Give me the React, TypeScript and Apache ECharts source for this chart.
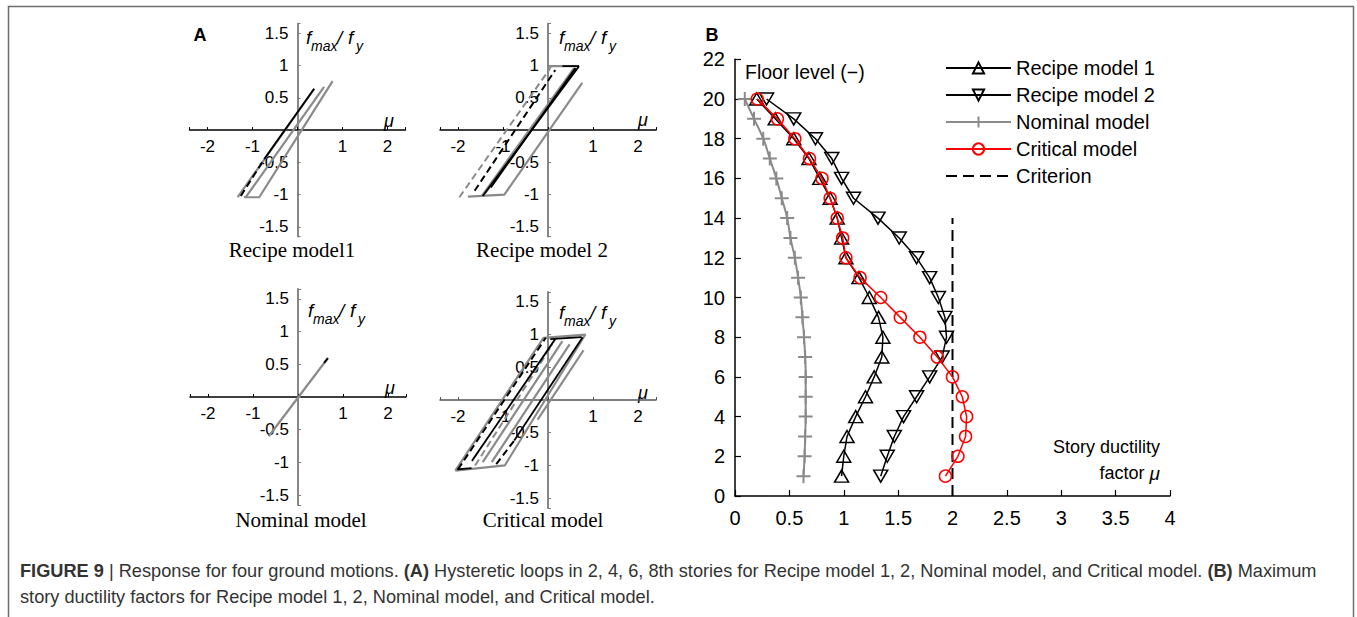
import React, { useEffect, useRef } from "react";
import * as echarts from "echarts";

// ---------------- Panel B data ----------------
const floors = [1, 2, 3, 4, 5, 6, 7, 8, 9, 10, 11, 12, 13, 14, 15, 16, 17, 18, 19, 20];
const recipe1 = [0.98, 1.0, 1.03, 1.11, 1.2, 1.28, 1.35, 1.36, 1.32, 1.235, 1.14, 1.02, 0.98, 0.94, 0.875, 0.78, 0.68, 0.54, 0.37, 0.2];
const recipe2 = [1.34, 1.4, 1.465, 1.55, 1.67, 1.79, 1.905, 1.945, 1.93, 1.87, 1.79, 1.67, 1.51, 1.315, 1.09, 0.98, 0.89, 0.74, 0.54, 0.29];
const nominal = [0.63, 0.64, 0.645, 0.65, 0.65, 0.65, 0.645, 0.635, 0.62, 0.605, 0.58, 0.55, 0.51, 0.48, 0.43, 0.38, 0.32, 0.26, 0.175, 0.09];
const critical = [1.935, 2.05, 2.12, 2.13, 2.09, 2.0, 1.86, 1.7, 1.52, 1.34, 1.15, 1.02, 0.99, 0.94, 0.875, 0.8, 0.685, 0.55, 0.39, 0.205];
const criterionX = 2;
const criterionFloors = [0, 14];
const legendNames = ["Recipe model 1", "Recipe model 2", "Nominal model", "Critical model", "Criterion"];

// ---------------- Panel A data (hysteretic loops, [mu, f/fy]) ----------------
const r1Gray = [
  [[-1.33, -1.04], [0.37, 0.64]],
  [[-1.19, -1.04], [-0.85, -1.04], [0.78, 0.76]],
  [[-1.15, -1.04], [0.59, 0.67]],
];
const r1GrayDash: number[][][] = [];
const r1Black = [[[-0.74, -0.45], [0.37, 0.64]]];
const r1BlackDash = [[[-1.26, -1.02], [-0.74, -0.45]]];

const r2Gray = [
  [[-1.48, -1.03], [0.58, 0.96]],
  [[-1.78, -1.03], [-0.97, -1.0], [0.76, 0.73]],
  [[0.05, 0.96], [0.05, 0.99], [0.69, 0.99]],
  [[-1.4, -0.98], [0.62, 0.96]],
];
const r2GrayDash = [[[-1.97, -1.04], [0.05, 0.96]]];
const r2Black = [
  [[-1.45, -1.02], [0.69, 0.99]],
  [[-1.27, -0.89], [0.61, 0.96]],
  [[0.32, 0.99], [0.69, 0.99]],
];
const r2BlackDash = [[[-1.63, -0.94], [0.16, 0.93]]];

const nomGray = [[[-0.65, -0.6], [0.67, 0.6]]];
const nomGrayDash: number[][][] = [];
const nomBlack = [[[0.58, 0.52], [0.66, 0.59]]];
const nomBlackDash: number[][][] = [];

const crGray = [
  [[-2.06, -1.08], [-0.1, 0.95], [0.83, 1.0], [-0.96, -1.0], [-2.06, -1.08]],
  [[-1.45, -0.95], [0.32, 0.9]],
  [[-1.25, -0.95], [0.48, 0.85]],
  [[-0.23, -0.3], [0.79, 0.76]],
];
const crGrayDash = [[[-1.62, -1.0], [0.1, 0.85]]];
const crBlack = [
  [[-1.69, -0.93], [0.16, 0.93]],
  [[-0.75, -0.62], [0.77, 0.96]],
  [[0.05, 0.93], [0.75, 0.96]],
  [[-2.02, -1.06], [-1.7, -1.04]],
];
const crBlackDash = [
  [[-2.0, -1.06], [-0.05, 0.95]],
  [[-1.15, -0.98], [-0.75, -0.62]],
];

const subplotTitles = ["Recipe model1", "Recipe model 2", "Nominal model", "Critical model"];

// ---------------- styling ----------------
const FONT = "'Liberation Sans', Arial, Helvetica, sans-serif";
const SERIF = "'Liberation Serif', 'Times New Roman', serif";
const GRAY = "#8a8a8a";

const aGrids = [
  { left: 189.5, top: 23.6, width: 216, height: 213 },
  { left: 440, top: 23.6, width: 216, height: 213 },
  { left: 190, top: 289, width: 216, height: 216 },
  { left: 440, top: 292, width: 216, height: 216 },
];
const hAxisColor = ["#000", "#000", "#000", "#555"];

function loopSeries(polys: number[][][], idx: number, color: string, width: number, dashed: boolean, z: number) {
  return polys.map((p) => ({
    type: "line",
    xAxisIndex: idx,
    yAxisIndex: idx,
    data: p,
    symbol: "none",
    silent: true,
    z,
    lineStyle: { color, width, type: dashed ? [7, 4] : "solid" },
  }));
}

function txt(text: string, x: number, y: number, o: any = {}) {
  return {
    type: "text",
    x,
    y,
    silent: true,
    style: {
      text,
      fill: o.fill || "#000",
      fontSize: o.fontSize || 18,
      fontFamily: o.fontFamily || FONT,
      fontWeight: o.fontWeight || "normal",
      fontStyle: o.fontStyle || "normal",
      align: o.align || "left",
      verticalAlign: o.verticalAlign || "middle",
      rich: o.rich,
    },
  };
}

function buildOption() {
  const grid: any[] = [...aGrids, { left: 735, top: 59.3, width: 435, height: 436.7 }];
  const xAxis: any[] = [];
  const yAxis: any[] = [];
  for (let i = 0; i < 4; i++) {
    const g = aGrids[i];
    xAxis.push({
      gridIndex: i,
      type: "value",
      position: "bottom",
      offset: -g.height / 2,
      min: -2.4,
      max: 2.4,
      splitNumber: 5,
      splitLine: { show: false },
      axisLine: { onZero: false, lineStyle: { color: hAxisColor[i], width: 1.5 } },
      axisTick: { inside: true, length: 3, lineStyle: { color: hAxisColor[i] } },
      axisLabel: {
        fontSize: 17,
        color: "#000",
        fontFamily: FONT,
        margin: 8,
        formatter: (v: number) => (Math.abs(v - Math.round(v)) < 1e-6 && Math.abs(v) > 1e-6 ? String(Math.round(v)) : ""),
      },
    });
    yAxis.push({
      gridIndex: i,
      type: "value",
      position: "left",
      offset: -g.width / 2,
      min: -1.65,
      max: 1.65,
      splitNumber: 6,
      splitLine: { show: false },
      axisLine: { onZero: false, lineStyle: { color: "#7a7a7a", width: 1.8 } },
      axisTick: { inside: true, length: 3, lineStyle: { color: "#7a7a7a" } },
      axisLabel: {
        fontSize: 17,
        color: "#000",
        fontFamily: FONT,
        margin: 9,
        formatter: (v: number) =>
          Math.abs(v * 2 - Math.round(v * 2)) < 1e-6 && Math.abs(v) > 1e-6 ? String(Math.round(v * 2) / 2) : "",
      },
    });
  }
  xAxis.push({
    gridIndex: 4,
    type: "value",
    min: 0,
    max: 4,
    interval: 0.5,
    splitLine: { show: false },
    axisLine: { onZero: false, lineStyle: { color: "#000", width: 1.5 } },
    axisTick: { inside: true, length: 6, lineStyle: { color: "#000", width: 1.2 } },
    axisLabel: { fontSize: 20, color: "#000", fontFamily: FONT, margin: 12 },
  });
  yAxis.push({
    gridIndex: 4,
    type: "value",
    min: 0,
    max: 22,
    interval: 2,
    splitLine: { show: false },
    axisLine: { onZero: false, lineStyle: { color: "#000", width: 1.5 } },
    axisTick: { inside: true, length: 6, lineStyle: { color: "#000", width: 1.2 } },
    axisLabel: { fontSize: 20, color: "#000", fontFamily: FONT, margin: 10 },
  });

  const series: any[] = [];
  const sets = [
    [r1Gray, r1GrayDash, r1Black, r1BlackDash],
    [r2Gray, r2GrayDash, r2Black, r2BlackDash],
    [nomGray, nomGrayDash, nomBlack, nomBlackDash],
    [crGray, crGrayDash, crBlack, crBlackDash],
  ];
  sets.forEach((s, i) => {
    series.push(...loopSeries(s[0], i, GRAY, 2.2, false, 2));
    series.push(...loopSeries(s[1], i, GRAY, 2, true, 2));
    series.push(...loopSeries(s[2], i, "#000", 1.8, false, 3));
    series.push(...loopSeries(s[3], i, "#000", 2, true, 3));
  });

  const hollow = (c: string) => ({ color: "rgba(255,255,255,0)", borderColor: c, borderWidth: 1.5 });
  series.push(
    {
      name: legendNames[0],
      type: "line",
      xAxisIndex: 4,
      yAxisIndex: 4,
      data: floors.map((f, i) => [recipe1[i], f]),
      symbol: "path://M5,0L10,8.66L0,8.66Z",
      symbolSize: [14, 12],
      lineStyle: { color: "#000", width: 1.5 },
      itemStyle: hollow("#000"),
      z: 4,
    },
    {
      name: legendNames[1],
      type: "line",
      xAxisIndex: 4,
      yAxisIndex: 4,
      data: floors.map((f, i) => [recipe2[i], f]),
      symbol: "path://M0,0L10,0L5,8.66Z",
      symbolSize: [14, 12],
      lineStyle: { color: "#000", width: 1.5 },
      itemStyle: hollow("#000"),
      z: 4,
    },
    {
      name: legendNames[2],
      type: "line",
      xAxisIndex: 4,
      yAxisIndex: 4,
      data: floors.map((f, i) => [nominal[i], f]),
      symbol: "path://M0,5L10,5M5,0L5,10",
      symbolSize: 14,
      smooth: true,
      lineStyle: { color: GRAY, width: 2 },
      itemStyle: { color: "rgba(255,255,255,0)", borderColor: GRAY, borderWidth: 2 },
      z: 4,
    },
    {
      name: legendNames[3],
      type: "line",
      xAxisIndex: 4,
      yAxisIndex: 4,
      data: floors.map((f, i) => [critical[i], f]),
      symbol: "circle",
      symbolSize: 12,
      lineStyle: { color: "#f00", width: 1.5 },
      itemStyle: hollow("#f00"),
      z: 5,
    },
    {
      name: legendNames[4],
      type: "line",
      xAxisIndex: 4,
      yAxisIndex: 4,
      data: criterionFloors.map((f) => [criterionX, f]),
      symbol: "none",
      lineStyle: { color: "#000", width: 2, type: [11, 6] },
      itemStyle: { color: "rgba(0,0,0,0)", borderColor: "rgba(0,0,0,0)", borderWidth: 0 },
      z: 3,
    }
  );

  const graphic: any[] = [
    {
      type: "rect",
      silent: true,
      shape: { x: 8.5, y: 6.5, width: 1345, height: 700 },
      style: { fill: "none", stroke: "#6e6e6e", lineWidth: 1.5 },
    },
    txt("A", 200, 35, { fontWeight: "bold", fontSize: 18, align: "center" }),
    txt("B", 712, 35, { fontWeight: "bold", fontSize: 18, align: "center" }),
    txt("Floor level (\u2212)", 745, 72, { fontSize: 19.5 }),
    txt("Story ductility", 1160, 447, { fontSize: 18, align: "right" }),
    {
      type: "text",
      x: 1160,
      y: 473,
      silent: true,
      style: {
        text: "factor {m|\u03bc}",
        fill: "#000",
        fontSize: 18,
        fontFamily: FONT,
        align: "right",
        verticalAlign: "middle",
        rich: { m: { fontStyle: "italic", fontSize: 19, fontFamily: FONT, fill: "#000" } },
      },
    },
    {
      type: "text",
      x: 20,
      y: 571,
      silent: true,
      style: {
        text:
          "{b|FIGURE 9} | Response for four ground motions. {b|(A)} Hysteretic loops in 2, 4, 6, 8th stories for Recipe model 1, 2, Nominal model, and Critical model. {b|(B)} Maximum",
        fill: "#333",
        fontSize: 18.2,
        fontFamily: FONT,
        verticalAlign: "middle",
        rich: { b: { fontWeight: "bold", fontSize: 18.2, fontFamily: FONT, fill: "#333" } },
      },
    },
    txt("story ductility factors for Recipe model 1, 2, Nominal model, and Critical model.", 20, 597, {
      fontSize: 18.2,
      fill: "#333",
    }),
  ];

  const fPos = [
    [306, 37],
    [559, 37],
    [308, 310],
    [559, 312],
  ];
  const muPos = [
    [389, 121],
    [643, 120],
    [390, 388],
    [643, 393],
  ];
  const titlePos = [
    [292, 250],
    [542, 250],
    [301, 520],
    [543, 520],
  ];
  for (let i = 0; i < 4; i++) {
    const [x0, y0] = fPos[i];
    graphic.push(
      txt("f", x0, y0, { fontStyle: "italic", fontSize: 19 }),
      txt("max", x0 + 5, y0 + 9, { fontStyle: "italic", fontSize: 14 }),
      txt("/", x0 + 31, y0, { fontStyle: "italic", fontSize: 19 }),
      txt("f", x0 + 42, y0, { fontStyle: "italic", fontSize: 19 }),
      txt("y", x0 + 50, y0 + 9, { fontStyle: "italic", fontSize: 14 })
    );
    graphic.push(txt("\u03bc", muPos[i][0], muPos[i][1], { fontStyle: "italic", fontSize: 18, align: "center" }));
    graphic.push(
      txt(subplotTitles[i], titlePos[i][0], titlePos[i][1], { fontFamily: SERIF, fontSize: 21, align: "center" })
    );
  }

  return {
    animation: false,
    backgroundColor: "#fff",
    textStyle: { fontFamily: FONT },
    grid,
    xAxis,
    yAxis,
    legend: {
      data: [
        legendNames[0],
        legendNames[1],
        legendNames[2],
        legendNames[3],
        { name: legendNames[4], itemStyle: { opacity: 0 } },
      ],
      orient: "vertical",
      left: 945,
      top: 58,
      padding: 0,
      itemWidth: 65,
      itemHeight: 14,
      itemGap: 7,
      selectedMode: false,
      textStyle: { fontSize: 20, color: "#000", fontFamily: FONT },
    },
    series,
    graphic,
  };
}

export default function App() {
  const ref = useRef<HTMLDivElement>(null);
  useEffect(() => {
    if (!ref.current) return;
    const chart = echarts.init(ref.current, null, { renderer: "svg" });
    chart.setOption(buildOption() as any);
    return () => chart.dispose();
  }, []);
  return (
    <div
      ref={ref}
      style={{ position: "fixed", left: 0, top: 0, width: 1357, height: 617, background: "#fff" }}
    />
  );
}
